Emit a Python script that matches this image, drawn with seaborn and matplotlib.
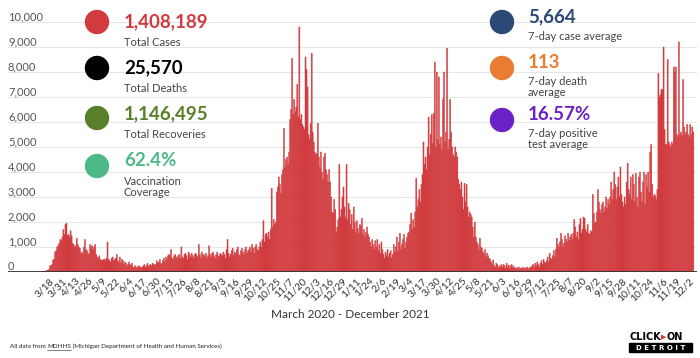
import numpy as np
import pandas as pd
import matplotlib
matplotlib.use('Agg')
import matplotlib.pyplot as plt
import seaborn as sns
from matplotlib.patches import Ellipse, Rectangle
from matplotlib.ticker import FuncFormatter

sns.set_theme(style='white')
plt.rcParams['font.family'] = ['Lato', 'DejaVu Sans']

# daily new cases, one row per 13-day tick interval (first row = 3/10 .. 3/17)
start_date = '2020-03-10'

wave1 = [2, 10, 15, 25, 30, 45, 60, 80,
         110, 250, 260, 300, 480, 520, 800, 850, 1000, 1050, 1150, 1300, 1250,
         1400, 1700, 1500, 1900, 1950, 1450, 1500, 1400, 1650, 1450, 1150, 1100, 1000,
         1050, 1350, 1100, 1000, 950, 750, 800, 700, 1000, 1300, 900, 850, 750,
         700, 1100, 1000, 1050, 900, 1000, 1100, 700, 600, 550, 650, 500, 480,
         450, 500, 520, 450, 550, 1200, 500, 450, 400, 550, 600, 450, 500,
         550, 700, 450, 400, 600, 350, 500, 450, 300, 400, 350, 250, 300]

summer20 = [400, 300, 250, 350, 180, 200, 250, 150, 220, 180, 250, 200, 160,
            200, 250, 300, 180, 250, 350, 200, 280, 300, 250, 350, 300, 280,
            300, 450, 350, 400, 500, 300, 350, 450, 550, 400, 600, 500, 650,
            700, 650, 900, 550, 500, 650, 700, 600, 550, 650, 700, 550, 1000,
            600, 550, 700, 750, 650, 500, 800, 700, 600, 750, 650, 550, 700,
            750, 650, 600, 1100, 700, 550, 800, 650, 700, 600, 750, 550, 650,
            1050, 700, 600, 750, 800, 650, 550, 700, 800, 600, 650, 750, 700,
            650, 800, 700, 550, 900, 1300, 750, 600, 700, 850, 950, 650, 800,
            750, 900, 1000, 700, 650, 850, 950, 800, 700, 900, 1000, 750, 850,
            900, 1000, 800, 1100, 950, 750, 1000, 1100, 900, 850, 1000, 1200, 1000]

wave2 = [1300, 2050, 1200, 1500, 1550, 1400, 1600, 1300, 1700, 3350, 1800, 2100, 1900,
         2000, 3200, 3400, 3800, 3500, 3150, 3900, 4100, 5750, 4200, 4500, 4600, 4300,
         4800, 6100, 6500, 8550, 6300, 6900, 6400, 6600, 7500, 6200, 9800, 6100, 6300,
         5900, 5800, 5700, 8600, 8100, 7400, 5500, 5300, 5950, 8750, 5600, 5200, 4800,
         4700, 4750, 5950, 4600, 4200, 4800, 4000, 3700, 4600, 4750, 4100, 3900, 3600,
         4100, 3600, 3000, 2400, 2350, 2900, 2500, 1600, 1800, 2100, 4300, 2200, 2500,
         3000, 3400, 2600, 2200, 4300, 2100, 2750, 2500, 1900, 2300, 1700, 2600, 2000]

winter21 = [1600, 2050, 1750, 1550, 1900, 1850, 2150, 1500, 1700, 1400, 1600, 1800, 1500,
            1400, 1200, 1000, 1300, 1100, 900, 1250, 1000, 1300, 850, 1100, 750, 1200,
            900, 700, 550, 800, 650, 900, 600, 750, 850, 550, 700, 1100, 800,
            1000, 1400, 800, 1200, 1550, 900, 1100, 1300, 1500, 950, 1200, 1400, 1550,
            1600, 1900, 2350, 1700, 2100, 1800, 2400, 3750, 2600, 2900, 3300, 2800, 3500]

wave3 = [3900, 5200, 4300, 4600, 4100, 5000, 6200, 4700, 5500, 6300, 5150, 6350, 8400,
         5000, 8000, 5300, 7800, 5100, 5400, 4900, 6900, 8000, 5200, 5600, 8950, 4900,
         5300, 6900, 5600, 5000, 4700, 4600, 5000, 4800, 4600, 3700, 3500, 3300, 3600,
         3000, 2500, 3550, 2800, 3500, 2600, 2200, 2400, 2300, 2200, 1800, 1400, 2000,
         1400, 1200, 1100, 900, 1350, 1000, 950, 800, 700, 900, 600, 750, 650,
         550, 500, 400, 300, 480, 250, 200, 350, 300, 150, 250, 200, 300]

summer21 = [200, 300, 250, 150, 350, 200, 280, 150, 250, 300, 180, 220, 150,
            150, 180, 120, 200, 100, 160, 140, 190, 110, 170, 130, 200, 120,
            150, 200, 180, 250, 300, 200, 350, 250, 400, 300, 200, 350, 450,
            300, 500, 400, 350, 450, 600, 400, 750, 550, 500, 650, 850, 600,
            900, 1350, 1100, 1000, 1200, 1550, 1300, 1000, 1150, 1450, 1300, 1200, 1550,
            1250, 1400, 1500, 1300, 1550, 2100, 1800, 1400, 1600, 1300, 1900, 2150, 1550,
            1700, 2200, 2150, 1700, 1600, 1900, 1550, 1500, 1650, 1600, 3100, 2350, 1950]

wave4 = [2000, 2400, 3300, 2800, 2500, 2350, 2700, 2800, 2400, 2600, 3000, 2550, 2900,
         2700, 3000, 3600, 2900, 3300, 4000, 3500, 2900, 3400, 3800, 3000, 4200, 3100,
         2800, 2600, 3000, 2700, 3600, 4350, 3300, 3100, 3800, 2900, 3900, 3500, 2800,
         3950, 3000, 2600, 3800, 4000, 3200, 2800, 3600, 4000, 2700, 3900, 3400, 4000,
         3200, 4800, 5100, 3500, 3000, 3100, 3050, 2900, 3300, 7950, 7000, 7100, 7300,
         7300, 9000, 5700, 5100, 5100, 8500, 5200, 5100, 5000, 5200, 5100, 8200, 8000,
         8200, 5500, 5400, 9200, 5500, 5600, 5450, 7700, 5800, 5500, 5600, 5900, 5500,
         5400, 5900, 5500, 5800, 5600]

stat_values = ['1,408,189', '25,570', '1,146,495', '62.4%',
               '5,664', '113', '16.57%']
stat_labels = ['Total Cases', 'Total Deaths', 'Total Recoveries', 'Vaccination\nCoverage',
               '7-day case average', '7-day death\naverage', '7-day positive\ntest average']
stat_colors = ['#d23b3d', '#000000', '#5a7f2b', '#4cb987',
               '#2c4875', '#e97d33', '#6a22c8']

cases = wave1 + summer20 + wave2 + winter21 + wave3 + summer21 + wave4
dates = pd.date_range(start_date, periods=len(cases))
df = pd.DataFrame({'day': np.arange(len(cases)), 'cases': cases})

W, H = 700, 358
fig = plt.figure(figsize=(W / 100, H / 100), dpi=100)
ax = fig.add_axes([8 / W, (H - 272) / H, 689 / W, 250 / H])

bar_color = '#d13b3e'
sns.barplot(data=df, x='day', y='cases', color=bar_color, saturation=1,
            width=1.0, linewidth=0.35, edgecolor=bar_color, ax=ax, zorder=2)
for p in ax.patches:
    p.set_snap(False)

ax.set_xlim(-32, 639.6)
ax.set_ylim(0, 10000)
ax.set_yticks(np.arange(0, 10001, 1000))
ax.yaxis.set_major_formatter(FuncFormatter(lambda v, p: f'{int(v):,}'))
ax.grid(axis='y', color='#e6e6e6', lw=0.8, zorder=0)
ax.axhline(0, color='#333333', lw=1.3, zorder=3)
sns.despine(ax=ax, left=True, bottom=True, top=True, right=True)

ax.tick_params(axis='y', length=0, pad=0, labelsize=8, labelcolor='#555555')
for lbl in ax.get_yticklabels():
    lbl.set_ha('left')
    lbl.set_va('bottom')

tick_idx = np.arange(8, len(cases), 13)
ax.set_xticks(tick_idx)
ax.set_xticklabels([f'{d.month}/{d.day}' for d in dates[tick_idx]],
                   rotation=45, ha='right', rotation_mode='anchor',
                   fontsize=7.5, color='#333333')
ax.tick_params(axis='x', length=0, pad=3)
ax.set_xlabel('')
ax.set_ylabel('')


def fx(x):
    return x / W


def fy(y):
    return 1 - y / H


# stat markers: left column then right column
circle_xy = [(97, 22), (97, 68), (97, 118), (97, 166), (502, 22), (502, 68), (502, 120)]
value_y = [22, 68, 114, 161, 17, 63, 115]
label_y = [43, 89, 135, 187, 36, 87, 139]
for i, (cx, cy) in enumerate(circle_xy):
    fig.add_artist(Ellipse((fx(cx), fy(cy)), 23 / W, 23 / H,
                           transform=fig.transFigure, color=stat_colors[i], zorder=5))
    tx = cx + 27 if cx < 300 else cx + 26
    fig.text(fx(tx), fy(value_y[i]), stat_values[i], color=stat_colors[i],
             fontsize=13.5, fontweight='bold', va='center', ha='left')
    fig.text(fx(tx), fy(label_y[i]), stat_labels[i], color='#444444',
             fontsize=8, va='center', ha='left', linespacing=0.95)

fig.text(0.5, fy(314), 'March 2020 - December 2021', ha='center', va='center',
         fontsize=8.5, color='#333333')

# footer
foot = fig.text(fx(10), fy(346), 'All data from ', fontsize=4.5, color='#222222',
                va='center', ha='left')
fig.canvas.draw()
r = fig.canvas.get_renderer()
bb = foot.get_window_extent(r)
src = fig.text(bb.x1 / W, fy(346), 'MDHHS', fontsize=4.5, color='#222222',
               va='center', ha='left')
bb2 = src.get_window_extent(r)
fig.add_artist(plt.Line2D([bb2.x0 / W, bb2.x1 / W], [fy(349.5), fy(349.5)],
                          transform=fig.transFigure, color='#222222', lw=0.4))
fig.text(bb2.x1 / W, fy(346), ' (Michigan Department of Health and Human Services)',
         fontsize=4.5, color='#222222', va='center', ha='left')

# logo
click = fig.text(fx(629), fy(337), 'CLICK', fontsize=7, fontweight='heavy', color='black',
                 va='center', ha='left', family='DejaVu Sans')
cb = click.get_window_extent(r)
arrow = fig.text(cb.x1 / W, fy(337), '\u25B6', fontsize=5, color='#d13b3e',
                 va='center', ha='left', family='DejaVu Sans')
ab = arrow.get_window_extent(r)
fig.text(ab.x1 / W, fy(337), 'ON', fontsize=7, fontweight='heavy', color='black',
         va='center', ha='left', family='DejaVu Sans')
fig.add_artist(Rectangle((fx(629), fy(352)), 63 / W, 9 / H, transform=fig.transFigure,
                         color='black'))
fig.text(fx(660.5), fy(347.5), 'D E T R O I T', fontsize=5, fontweight='bold', color='white',
         va='center', ha='center', family='DejaVu Sans')

fig.savefig('out.png', dpi=100)
